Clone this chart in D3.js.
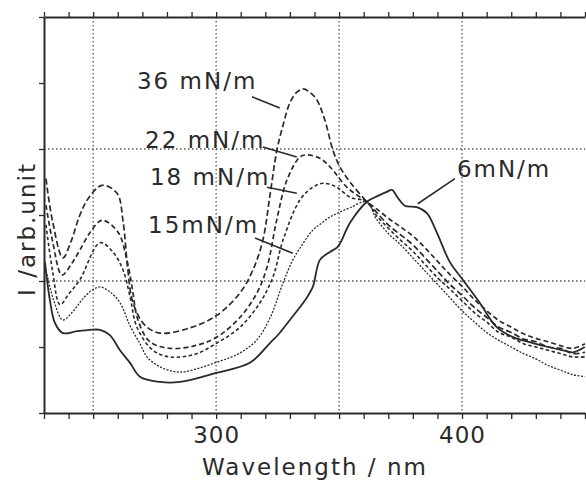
<!DOCTYPE html>
<html>
<head>
<meta charset="utf-8">
<script src="https://cdn.jsdelivr.net/npm/d3@7"></script>
<style>
  body { margin: 0; background: #fff; }
  svg { display: block; }
  text { font-family: "DejaVu Sans", sans-serif; fill: #2a2a2a; }
</style>
</head>
<body>
<svg width="586" height="481"></svg>
<script>
const width = 586;
const height = 481;

// spectra, [wavelength nm, intensity arb.unit]
const s36 = [[230.8,3.55],[233.5,2.9],[237.7,2.35],[241,2.6],[244.6,3.0],[248,3.25],[253.6,3.45],[259.7,3.33],[262.1,2.92],
  [264.1,2.17],[266.2,1.67],[271,1.33],[277.2,1.21],[289.3,1.29],[300.3,1.48],[309.7,1.82],[315,2.17],[319,2.62],
  [321.9,3.3],[324.7,3.98],[327.2,4.36],[330,4.7],[332.8,4.86],[335.3,4.91],[338.1,4.86],[341,4.74],[344.2,4.44],
  [347.5,3.98],[350.3,3.73],[354.4,3.5],[361.3,3.2],[365,3.05],[370,2.85],[375,2.7],[380,2.55],[385,2.35],[390,2.15],
  [395,1.95],[400,1.78],[405,1.6],[410,1.45],[415,1.3],[420,1.22],[425,1.12],[430,1.08],[435,1.0],[440,0.98],[445,0.9],[450,0.92]];
const s22 = [[230.8,3.15],[233.5,2.6],[237.3,2.09],[241,2.25],[244.6,2.47],[249,2.75],[253.6,2.92],[260.1,2.74],[263.7,2.32],
  [265.8,1.91],[268.2,1.41],[273.1,1.08],[281.2,0.98],[291.4,1.02],[300.3,1.15],[309.7,1.45],[316.6,1.82],[320.7,2.21],
  [324.5,2.9],[328.8,3.53],[334.1,3.88],[336.9,3.91],[342.2,3.86],[346.3,3.73],[353.2,3.42],[361.3,3.2],[365,3.1],
  [370,2.95],[375,2.82],[380,2.68],[385,2.5],[390,2.3],[395,2.1],[400,1.92],[405,1.72],[410,1.55],[415,1.4],[420,1.3],
  [425,1.2],[430,1.13],[435,1.08],[440,1.02],[445,0.98],[450,1.05]];
const s18 = [[230.8,2.85],[233.5,2.15],[236.5,1.64],[240,1.8],[244.6,2.02],[252.8,2.58],[258,2.44],[262.1,2.17],[265,1.76],
  [267.8,1.3],[274.3,0.95],[281.2,0.85],[291.4,0.89],[300.3,1.06],[309.7,1.3],[317.8,1.67],[323.1,2.06],[327.2,2.62],
  [334.1,3.23],[339.3,3.42],[343.4,3.48],[349.1,3.42],[354.4,3.27],[361.3,3.2],[365,3.0],[370,2.8],[375,2.62],[380,2.45],
  [385,2.25],[390,2.05],[395,1.88],[400,1.7],[405,1.52],[410,1.38],[415,1.22],[420,1.15],[425,1.05],[430,1.0],
  [435,0.95],[440,0.9],[445,0.85],[450,0.85]];
const s15 = [[231.2,2.1],[234,1.7],[237.7,1.41],[242,1.55],[246,1.74],[249.5,1.86],[252.8,1.91],[257,1.83],[260.9,1.67],
  [265,1.32],[269,1.05],[271.9,0.85],[277.2,0.7],[285.3,0.62],[300.3,0.77],[309.7,0.91],[316.6,1.11],[321.9,1.44],
  [327.2,1.97],[331.2,2.32],[335,2.55],[339.3,2.77],[343,2.88],[346.3,2.97],[349.5,3.03],[354.4,3.11],[361.3,3.2],
  [365,2.95],[370,2.72],[375,2.55],[380,2.35],[385,2.15],[390,1.95],[395,1.75],[400,1.55],[405,1.38],[410,1.22],
  [415,1.1],[420,1.0],[425,0.9],[430,0.82],[435,0.72],[440,0.65],[445,0.58],[450,0.55]];
const s6 = [[230.4,2.29],[232.4,1.71],[234.5,1.36],[237.7,1.21],[243.4,1.24],[248.7,1.26],[252.8,1.26],[256.8,1.18],
  [260.9,0.95],[265,0.76],[269,0.55],[277.2,0.47],[285.3,0.47],[300.3,0.61],[313.7,0.76],[321.9,1.06],[326,1.22],
  [330,1.41],[336,1.7],[339.3,1.91],[342.2,2.32],[346.3,2.44],[349.5,2.52],[354.4,2.88],[361.3,3.2],[364.6,3.27],
  [369.4,3.35],[371.5,3.38],[373.9,3.26],[376.7,3.14],[381.6,3.12],[385.7,3.03],[389.8,2.73],[395,2.29],[400.3,2.02],
  [407.2,1.67],[414.1,1.3],[420.7,1.15],[428.8,1.06],[435,1.0],[441,0.95],[445,0.92],[449.9,1.0]];

const seriesList = [
  {name: "36 mN/m", data: s36, dash: "6,3", w: 1.7},
  {name: "22 mN/m", data: s22, dash: "5,3", w: 1.7},
  {name: "18 mN/m", data: s18, dash: "3.5,2.5", w: 1.6},
  {name: "15mN/m", data: s15, dash: "2,1.5", w: 1.3},
  {name: "6mN/m", data: s6, dash: null, w: 1.8}
];

// annotation labels: text position and pointer line, in data units
const labels = [
  {text: "36 mN/m", at: [267.8, 4.91], from: [314.6, 4.79], to: [325.9, 4.62]},
  {text: "22 mN/m", at: [271.1, 4.02], from: [319, 4.03], to: [332.8, 3.88]},
  {text: "18 mN/m", at: [273.1, 3.45], from: [320.7, 3.42], to: [332.8, 3.33]},
  {text: "15mN/m", at: [272.3, 2.73], from: [315.8, 2.65], to: [331.2, 2.42]},
  {text: "6mN/m", at: [397.9, 3.58], from: [397.1, 3.55], to: [382, 3.17]}
];

const xTicks = d3.range(230, 451, 10);
const xLabelTicks = [300, 400];
const xGrid = [250, 300, 350, 400];
const yTicks = d3.range(0, 7, 1);
const yGrid = [2, 4];

const svg = d3.select("svg");
const x = d3.scaleLinear().domain([230, 450]).range([44, 585]);
const y = d3.scaleLinear().domain([0, 6]).range([413, 17]);

// dotted grid
svg.append("g").selectAll("line").data(xGrid).join("line")
  .attr("x1", d => x(d)).attr("x2", d => x(d))
  .attr("y1", y(6)).attr("y2", y(0))
  .attr("stroke", "#555").attr("stroke-width", 1.3).attr("stroke-dasharray", "1.5,2.5");
svg.append("g").selectAll("line").data(yGrid).join("line")
  .attr("x1", x(230)).attr("x2", x(450))
  .attr("y1", d => y(d)).attr("y2", d => y(d))
  .attr("stroke", "#555").attr("stroke-width", 1.3).attr("stroke-dasharray", "1.5,2.5");

// curves
const line = d3.line().x(d => x(d[0])).y(d => y(d[1])).curve(d3.curveCatmullRom);
svg.append("g").selectAll("path").data(seriesList).join("path")
  .attr("d", d => line(d.data))
  .attr("fill", "none")
  .attr("stroke", "#2a2a2a")
  .attr("stroke-width", d => d.w)
  .attr("stroke-dasharray", d => d.dash);

// axes
const axBottom = svg.append("g").attr("transform", `translate(0,${y(0)})`)
  .call(d3.axisBottom(x).tickValues(xTicks).tickSize(6).tickSizeOuter(0).tickPadding(8)
    .tickFormat(d => xLabelTicks.includes(d) ? d : ""));
const axTop = svg.append("g").attr("transform", `translate(0,${y(6)})`)
  .call(d3.axisTop(x).tickValues(xTicks).tickSize(5).tickSizeOuter(0).tickFormat(""));
const axLeft = svg.append("g").attr("transform", `translate(${x(230)},0)`)
  .call(d3.axisLeft(y).tickValues(yTicks).tickSize(5).tickSizeOuter(0).tickFormat(""));

[axBottom, axTop, axLeft].forEach(g => {
  g.select(".domain").attr("stroke", "#2a2a2a").attr("stroke-width", 2);
  g.selectAll(".tick line").attr("stroke", "#2a2a2a").attr("stroke-width", 1.3);
});
axBottom.selectAll(".tick text").attr("font-size", 23).attr("letter-spacing", 1)
  .attr("font-family", "DejaVu Sans").attr("fill", "#2a2a2a");

// annotations
svg.append("g").selectAll("line").data(labels).join("line")
  .attr("x1", d => x(d.from[0])).attr("y1", d => y(d.from[1]))
  .attr("x2", d => x(d.to[0])).attr("y2", d => y(d.to[1]))
  .attr("stroke", "#2a2a2a").attr("stroke-width", 1.6);
svg.append("g").selectAll("text").data(labels).join("text")
  .attr("x", d => x(d.at[0])).attr("y", d => y(d.at[1]))
  .attr("font-size", 23).attr("letter-spacing", 2)
  .text(d => d.text);

// axis titles
svg.append("text")
  .attr("x", 315).attr("y", 475)
  .attr("text-anchor", "middle").attr("font-size", 23).attr("letter-spacing", 2)
  .text("Wavelength / nm");
svg.append("text")
  .attr("transform", `translate(35,229) rotate(-90)`)
  .attr("text-anchor", "middle").attr("font-size", 23).attr("letter-spacing", 2)
  .text("I /arb.unit");
</script>
</body>
</html>
